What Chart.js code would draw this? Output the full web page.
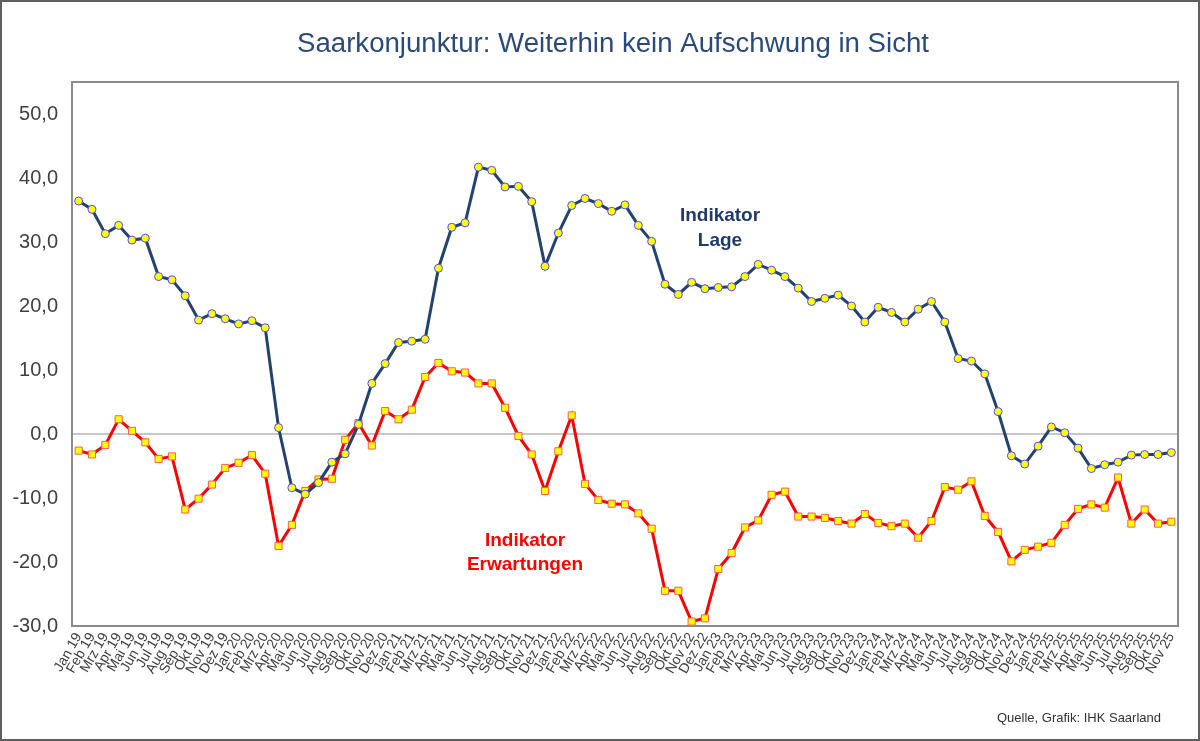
<!DOCTYPE html>
<html lang="de">
<head>
<meta charset="utf-8">
<title>Saarkonjunktur</title>
<script src="https://cdn.jsdelivr.net/npm/chart.js@4.4.1/dist/chart.umd.min.js"></script>
<style>
    html, body { margin: 0; padding: 0; background: #ffffff; }
    #wrap { width: 1200px; height: 741px; }
</style>
</head>
<body>
<div id="wrap"><canvas id="konjChart" width="1200" height="741"></canvas></div>
<script>
// Monate (Achsenbeschriftung)
const monate = ['Jan', 'Feb', 'Mrz', 'Apr', 'Mai', 'Jun', 'Jul', 'Aug', 'Sep', 'Okt', 'Nov', 'Dez'];
const jahre = ['19', '20', '21', '22', '23', '24', '25'];

// Indikator Lage (blau)
const lage = [
    36.4, 35.1, 31.3, 32.6, 30.3, 30.6, 24.6, 24.1, 21.6, 17.8, 18.8, 18.0,
    17.2, 17.7, 16.6, 1.0, -8.4, -9.4, -7.6, -4.4, -3.1, 1.5, 7.9, 11.0,
    14.3, 14.5, 14.8, 25.9, 32.3, 33.0, 41.7, 41.2, 38.6, 38.7, 36.3, 26.2,
    31.4, 35.7, 36.8, 36.0, 34.8, 35.8, 32.6, 30.1, 23.4, 21.8, 23.7, 22.7,
    22.9, 23.0, 24.6, 26.5, 25.6, 24.6, 22.8, 20.7, 21.2, 21.7, 20.0, 17.5,
    19.8, 19.0, 17.5, 19.5, 20.7, 17.5, 11.8, 11.4, 9.4, 3.5, -3.4, -4.7,
    -1.9, 1.1, 0.2, -2.2, -5.4, -4.8, -4.4, -3.3, -3.2, -3.2, -2.9
];

// Indikator Erwartungen (rot)
const erwartungen = [
    -2.6, -3.2, -1.7, 2.3, 0.5, -1.3, -3.9, -3.5, -11.8, -10.1, -7.9, -5.3,
    -4.5, -3.3, -6.2, -17.5, -14.2, -8.9, -7.1, -7.0, -0.9, 1.7, -1.8, 3.6,
    2.3, 3.8, 8.9, 11.1, 9.8, 9.6, 7.9, 7.9, 4.1, -0.3, -3.2, -8.9,
    -2.7, 2.9, -7.8, -10.3, -10.9, -11.0, -12.4, -14.8, -24.5, -24.5, -29.3, -28.8,
    -21.1, -18.6, -14.6, -13.5, -9.5, -9.0, -12.9, -12.9, -13.1, -13.6, -14.0, -12.5,
    -13.9, -14.4, -14.0, -16.2, -13.6, -8.3, -8.7, -7.4, -12.8, -15.3, -19.9, -18.1,
    -17.6, -17.0, -14.2, -11.7, -11.0, -11.5, -6.8, -14.0, -11.8, -14.0, -13.7
];

// Beschriftungen Jan 19 ... Nov 25
const labels = [];
jahre.forEach(j => {
    monate.forEach(m => {
        if (labels.length < lage.length) labels.push(m + ' ' + j);
    });
});

const yMin = -30;
const yMax = 55;
const yStep = 10;

const titel = 'Saarkonjunktur: Weiterhin kein Aufschwung in Sicht';
const quelle = 'Quelle, Grafik: IHK Saarland';

// Rahmen, Nulllinie und Texte
const dekoPlugin = {
    id: 'deko',
    beforeDatasetsDraw(chart) {
        const ctx = chart.ctx;
        const a = chart.chartArea;
        const y0 = chart.scales.y.getPixelForValue(0);
        ctx.save();
        ctx.strokeStyle = '#b4b4b4';
        ctx.lineWidth = 1.5;
        ctx.beginPath();
        ctx.moveTo(a.left, y0);
        ctx.lineTo(a.right, y0);
        ctx.stroke();
        ctx.strokeStyle = '#8c8c8c';
        ctx.lineWidth = 2;
        ctx.strokeRect(a.left, a.top, a.right - a.left, a.bottom - a.top);
        ctx.restore();
    },
    afterDraw(chart) {
        const ctx = chart.ctx;
        ctx.save();

        // Titel (auf die Breite des Originals gestaucht)
        ctx.font = '27px "Liberation Sans", sans-serif';
        ctx.fillStyle = '#2b4a7c';
        ctx.textBaseline = 'middle';
        ctx.textAlign = 'left';
        const w = ctx.measureText(titel).width;
        const sx = 632 / w;
        ctx.save();
        ctx.translate(297, 45);
        ctx.scale(sx, 1);
        ctx.fillText(titel, 0, 0);
        ctx.restore();

        // Beschriftung der Linien
        ctx.textAlign = 'center';
        ctx.font = 'bold 19px "Liberation Sans", Arial, sans-serif';
        ctx.fillStyle = '#1f3a68';
        ctx.fillText('Indikator', 720, 216);
        ctx.fillText('Lage', 720, 241);
        ctx.fillStyle = '#ff0000';
        ctx.fillText('Indikator', 525, 541);
        ctx.fillText('Erwartungen', 525, 565);

        // Quelle
        ctx.textAlign = 'right';
        ctx.font = '13px "Liberation Sans", Arial, sans-serif';
        ctx.fillStyle = '#333333';
        ctx.fillText(quelle, 1161, 718);

        // Außenrahmen
        ctx.strokeStyle = '#5f5f5f';
        ctx.lineWidth = 2;
        ctx.strokeRect(1, 1, 1198, 739);
        ctx.restore();
    }
};

const ctx = document.getElementById('konjChart').getContext('2d');

window.konjChartInstance = new Chart(ctx, {
    type: 'line',
    data: {
        labels: labels,
        datasets: [
            {
                label: 'Indikator Lage',
                data: lage,
                borderColor: '#23426e',
                borderWidth: 3,
                pointStyle: 'circle',
                pointRadius: 4,
                pointBorderWidth: 1,
                pointBackgroundColor: '#ffff00',
                pointBorderColor: '#4a4aff',
                tension: 0
            },
            {
                label: 'Indikator Erwartungen',
                data: erwartungen,
                borderColor: '#ff0000',
                borderWidth: 3,
                pointStyle: 'rect',
                pointRadius: 5,
                pointBorderWidth: 1,
                pointBackgroundColor: '#ffff00',
                pointBorderColor: '#ff5a5a',
                tension: 0
            }
        ]
    },
    options: {
        responsive: false,
        animation: false,
        layout: {
            padding: { left: 0, right: 22, top: 82, bottom: 0 }
        },
        plugins: {
            legend: { display: false },
            title: { display: false },
            tooltip: { enabled: false }
        },
        scales: {
            x: {
                offset: true,
                grid: { display: false, drawTicks: false },
                border: { display: false },
                ticks: {
                    autoSkip: false,
                    minRotation: 60,
                    maxRotation: 60,
                    padding: 4,
                    font: { family: '"Liberation Sans", Arial, sans-serif', size: 14 },
                    color: '#404040'
                },
                afterFit(scale) {
                    scale.height = 115;
                }
            },
            y: {
                min: yMin,
                max: yMax,
                grid: { display: false, drawTicks: false },
                border: { display: false },
                ticks: {
                    stepSize: yStep,
                    padding: 14,
                    font: { family: '"Liberation Sans", Arial, sans-serif', size: 20 },
                    color: '#404040',
                    callback: (v) => v.toFixed(1).replace('.', ',')
                },
                afterBuildTicks(scale) {
                    scale.ticks = scale.ticks.filter(t => t.value % yStep === 0);
                },
                afterFit(scale) {
                    scale.width = 72;
                }
            }
        }
    },
    plugins: [dekoPlugin]
});
</script>
</body>
</html>
